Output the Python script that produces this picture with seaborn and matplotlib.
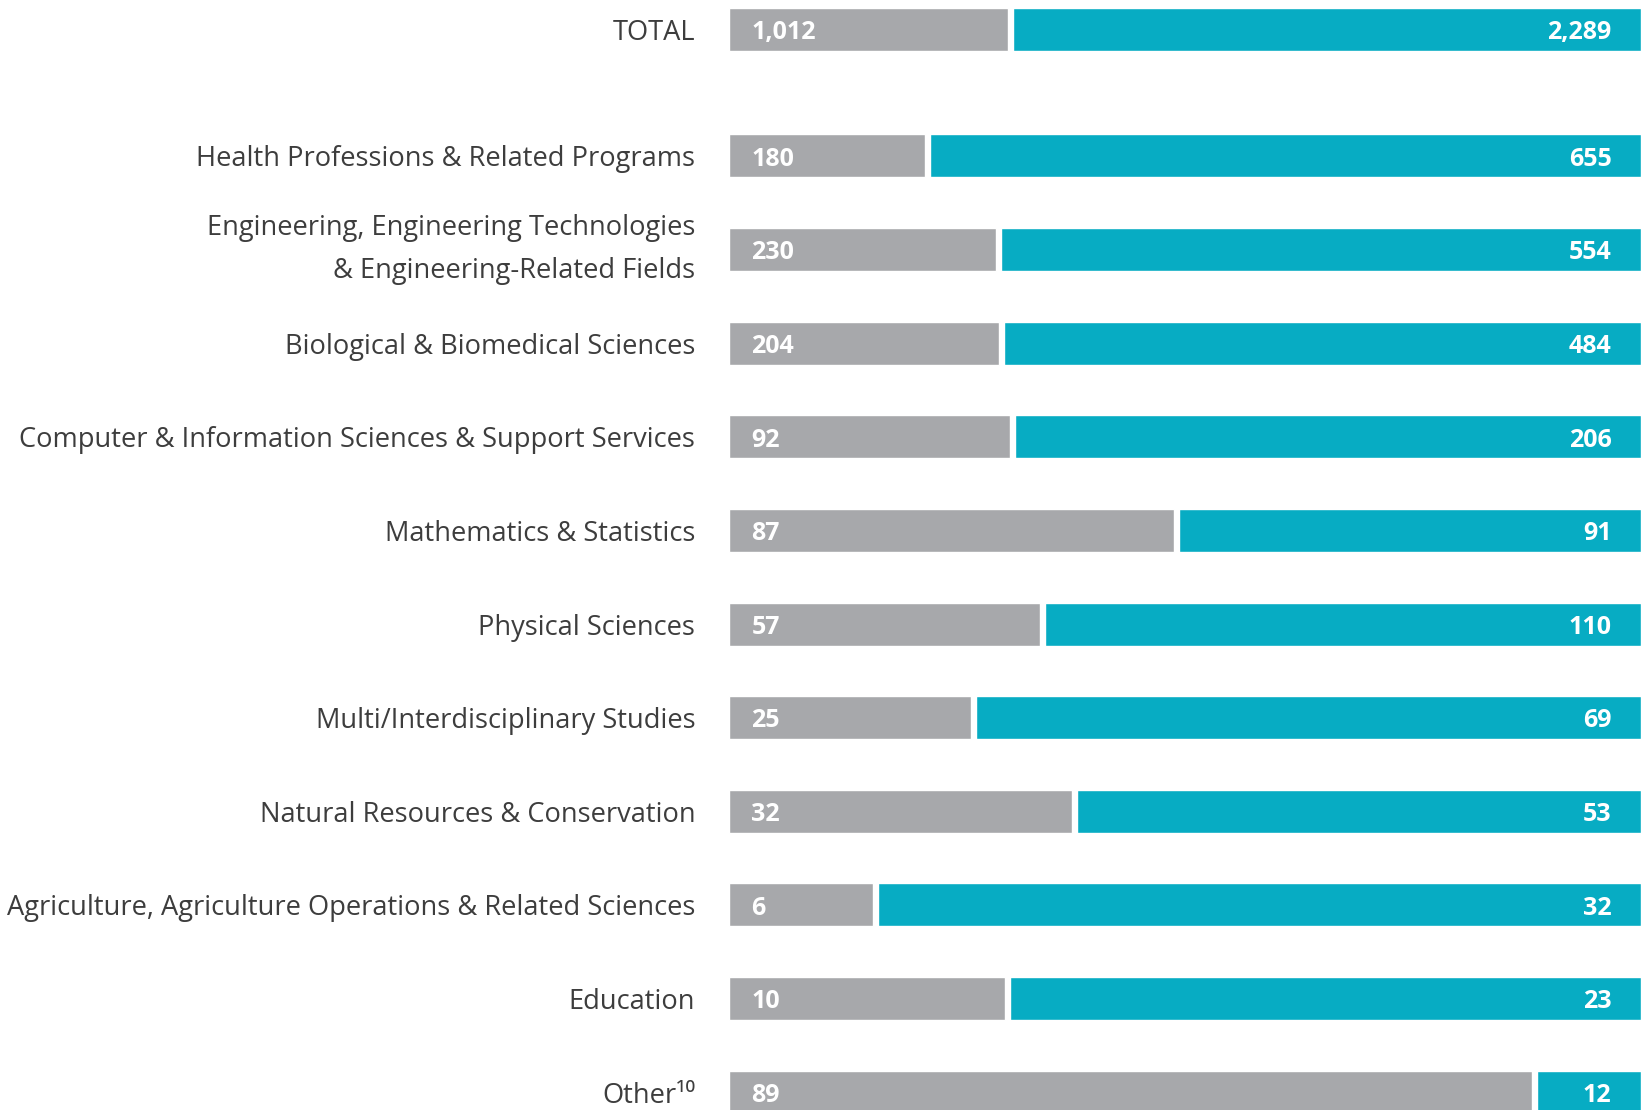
import numpy as np
import pandas as pd
import matplotlib
matplotlib.use("Agg")
import matplotlib.pyplot as plt
import matplotlib.transforms as mtransforms
import seaborn as sns

# Data
categories = ["TOTAL",
              "Health Professions & Related Programs",
              "Engineering, Engineering Technologies\n& Engineering-Related Fields",
              "Biological & Biomedical Sciences",
              "Computer & Information Sciences & Support Services",
              "Mathematics & Statistics",
              "Physical Sciences",
              "Multi/Interdisciplinary Studies",
              "Natural Resources & Conservation",
              "Agriculture, Agriculture Operations & Related Sciences",
              "Education",
              "Other\u00b9\u2070"]
gray_vals = [1012, 180, 230, 204, 92, 87, 57, 25, 32, 6, 10, 89]
teal_vals = [2289, 655, 554, 484, 206, 91, 110, 69, 53, 32, 23, 12]

GRAY = "#a7a8ab"
TEAL = "#07acc3"
FAMILY = ["Open Sans", "DejaVu Sans"]

sns.set_style("white")
plt.rcParams["font.family"] = FAMILY

# row positions: TOTAL sits a bit above the rest
ypos = [-1.35] + list(range(len(categories) - 1))

df = pd.DataFrame({"cat": categories, "y": ypos, "gray": gray_vals, "teal": teal_vals})
df["frac"] = df["gray"] / (df["gray"] + df["teal"])
df["full"] = 1.0
df["sep"] = df["frac"] + 0.0055

fig = plt.figure(figsize=(16.51, 11.10), dpi=100)
ax = fig.add_axes([0.4413, 0.0, 0.5524, 1.0])

sns.barplot(data=df, x="full", y="y", orient="h", native_scale=True, color=TEAL,
            saturation=1, width=0.46, ax=ax, zorder=1)
sns.barplot(data=df, x="sep", y="y", orient="h", native_scale=True, color="white",
            saturation=1, width=0.5, ax=ax, zorder=2)
sns.barplot(data=df, x="frac", y="y", orient="h", native_scale=True, color=GRAY,
            saturation=1, width=0.46, ax=ax, zorder=3)

# value labels
for _, r in df.iterrows():
    ax.text(0.025, r["y"] + 0.035, f"{r['gray']:,}", color="white", fontsize=18,
            fontweight="bold", va="center", ha="left", zorder=5)
    ax.text(0.968, r["y"] + 0.035, f"{r['teal']:,}", color="white", fontsize=18,
            fontweight="bold", va="center", ha="right", zorder=5)

ax.set_xlim(0, 1)
ax.set_ylim(10.19, -1.665)
ax.set_yticks(ypos)
labels = ax.set_yticklabels(categories, fontsize=19.6, color="#3d3d3d", linespacing=1.7)
ax.tick_params(axis="y", length=0, pad=24)
# the two-line label sits a little low, nudge it up
labels[2].set_transform(labels[2].get_transform() +
                        mtransforms.ScaledTranslation(0, 0.11, fig.dpi_scale_trans))
ax.set_xticks([])
ax.set_xlabel("")
ax.set_ylabel("")
sns.despine(ax=ax, left=True, bottom=True)

fig.savefig("out.png", dpi=100)
